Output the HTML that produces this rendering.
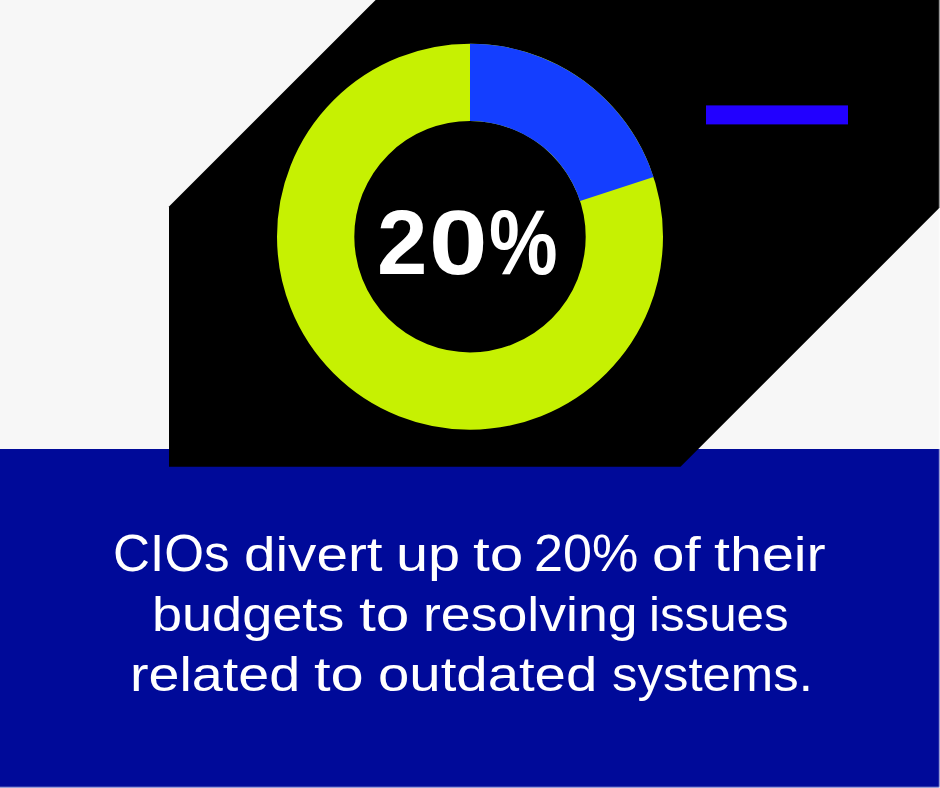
<!DOCTYPE html>
<html lang="en">
<head>
<meta charset="utf-8">
<title>CIOs divert up to 20% of their budgets</title>
<style>
  html, body { margin: 0; padding: 0; }
  body { width: 940px; height: 788px; overflow: hidden; background: #f7f7f7; font-family: "Liberation Sans", sans-serif; }
  #card { position: relative; width: 940px; height: 788px; overflow: hidden; background: #f7f7f7; }
  #art { position: absolute; left: 0; top: 0; width: 940px; height: 788px; display: block; }
  .stat { position: absolute; left: 0; top: 0; height: 91px; margin: 0; color: #fff; white-space: nowrap; font-size: 91px; line-height: 91px; font-weight: 700; }
  .stat span { position: relative; display: inline-block; vertical-align: top; width: 56px; height: 91px; transform-origin: 0 0; }
  .caption { position: absolute; left: 0; top: 0; margin: 0; color: #fff; font-weight: 400; white-space: nowrap; }
  .caption .ln { position: absolute; display: block; left: 0; height: 48px; font-size: 0; line-height: 0; }
  .caption .ln span { position: relative; display: inline-block; vertical-align: top; width: 0; height: 48px; font-size: 48px; line-height: 48px; transform-origin: 0 0; }
</style>
</head>
<body>
<div id="card">
  <svg id="art" width="940" height="788" viewBox="0 0 940 788">
    <rect x="0" y="0" width="940" height="788" fill="#f7f7f7"/>
    <rect x="0" y="449" width="940" height="339" fill="#000a99"/>
    <polygon points="169,206.6 375.6,0 940,0 940,207.3 680.5,466.8 169,466.8" fill="#000000"/>
    <circle cx="470" cy="236.7" r="154.35" fill="none" stroke="#c6f102" stroke-width="77.3"/>
    <path d="M470 43.70 A193 193 0 0 1 653.55 177.06 L580.04 200.95 A115.7 115.7 0 0 0 470 121.00 Z" fill="#143eff"/>
    <rect x="706" y="105.4" width="142" height="19" fill="#2200ff"/>
    <rect x="938.8" y="0" width="1.2" height="788" fill="#ffffff" fill-opacity="0.6"/>
    <rect x="0" y="786.7" width="940" height="1.3" fill="#ffffff" fill-opacity="0.6"/>
  </svg>
  <h1 class="stat"><span style="left:377.13px;top:196.84px;transform:scale(0.9959,1.0047)">2</span><span style="left:372.89px;top:196.20px;transform:scale(1.1567,1.0076)">0</span><span style="left:376.67px;top:196.25px;transform:scale(0.8477,1.0147)">%</span></h1>
  <p class="caption">
    <span class="ln" style="top:530.74px"><span style="left:113.24px;top:-3.80px;font-size:52.5px;line-height:52.5px;transform:scaleX(0.9741)">CIOs</span> <span style="left:243.84px;transform:scaleX(1.1797)">divert</span> <span style="left:395.75px;transform:scaleX(1.2023)">up</span> <span style="left:472.59px;transform:scaleX(1.2581)">to</span> <span style="left:534.10px;top:-3.80px;font-size:52.5px;line-height:52.5px;transform:scaleX(0.9917)">20%</span> <span style="left:652.17px;transform:scaleX(1.2159)">of</span> <span style="left:714.14px;transform:scaleX(1.1967)">their</span></span>
    <span class="ln" style="top:590.74px"><span style="left:152.29px;transform:scaleX(1.1260)">budgets</span> <span style="left:358.59px;transform:scaleX(1.2608)">to</span> <span style="left:423.02px;transform:scaleX(1.1167)">resolving</span> <span style="left:648.60px;transform:scaleX(1.0261)">issues</span></span>
    <span class="ln" style="top:650.74px"><span style="left:129.78px;transform:scaleX(1.1597)">related</span> <span style="left:314.30px;transform:scaleX(1.2446)">to</span> <span style="left:377.75px;transform:scaleX(1.1736)">outdated</span> <span style="left:612.47px;transform:scaleX(1.0610)">systems.</span></span>
  </p>
</div>
</body>
</html>
